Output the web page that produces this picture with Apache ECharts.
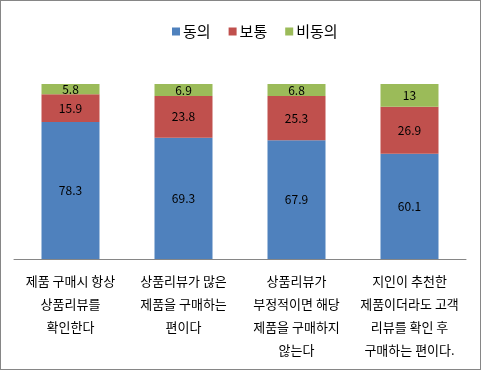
<!DOCTYPE html>
<html><head><meta charset="utf-8">
<script src="https://cdn.jsdelivr.net/npm/echarts@6/dist/echarts.min.js"></script>
<style>html,body{margin:0;padding:0;background:#fff}#c{width:481px;height:370px;box-sizing:border-box;border:1px solid #868686}</style>
</head><body><div id="c"></div>
<script>
const categories = ["제품 구매시 항상\n상품리뷰를\n확인한다", "상품리뷰가 많은\n제품을 구매하는\n편이다", "상품리뷰가\n부정적이면 해당\n제품을 구매하지\n않는다", "지인이 추천한\n제품이더라도 고객\n리뷰를 확인 후\n구매하는 편이다."];
const seriesNames = ["동의", "보통", "비동의"];
const agree = [78.3, 69.3, 67.9, 60.1];
const neutral = [15.9, 23.8, 25.3, 26.9];
const disagree = [5.8, 6.9, 6.8, 13];
const colors = ["#4F81BD", "#C0504D", "#9BBB59"];
const font = "'Malgun Gothic','Noto Sans CJK KR',sans-serif";
const chart = echarts.init(document.getElementById('c'));
const mk = (name, data, i) => ({
  name, type: 'bar', stack: 't', data, barWidth: 58,
  itemStyle: { color: colors[i] },
  label: { show: true, position: 'inside', color: '#000', fontSize: 12, fontFamily: font }
});
chart.setOption({
  animation: false,
  legend: {
    top: 23, left: 171, itemWidth: 8, itemHeight: 8, itemGap: 18, padding: 0,
    icon: 'rect', textStyle: { fontSize: 15, fontFamily: font, color: '#000', padding: [0, 0, 0, -2] },
    data: seriesNames
  },
  grid: { left: 13, right: 14, top: 83, bottom: 110 },
  xAxis: {
    type: 'category', data: categories,
    axisLine: { lineStyle: { color: '#868686', width: 1 } },
    axisTick: { show: false },
    axisLabel: { interval: 0, fontSize: 13, lineHeight: 23, fontFamily: font, color: '#000', margin: 11, verticalAlign: 'top' }
  },
  yAxis: { type: 'value', min: 0, max: 100, show: false, splitLine: { show: false } },
  series: [mk(seriesNames[0], agree, 0), mk(seriesNames[1], neutral, 1), mk(seriesNames[2], disagree, 2)]
});
</script></body></html>
